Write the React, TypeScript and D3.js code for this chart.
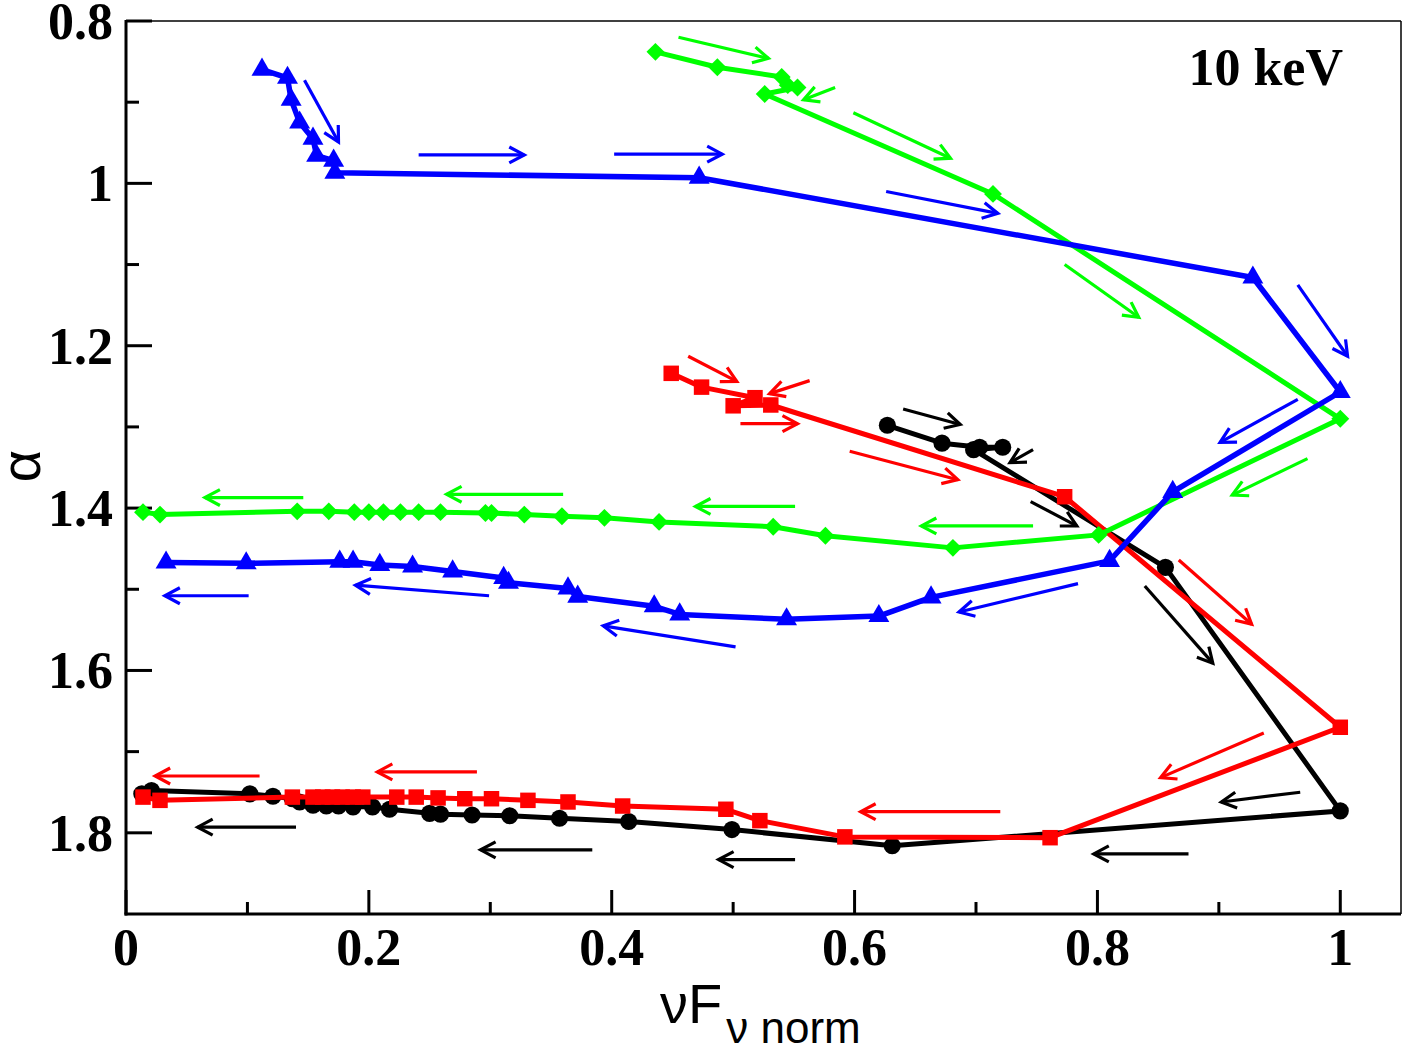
import React from "react";
import * as d3 from "d3";

// Spectral index alpha vs normalised nuF_nu at 10 keV, four loops.
const blackLoop: [number, number][] = [
  [0.627, 1.298], [0.672, 1.32], [0.703, 1.325], [0.722, 1.325], [0.698, 1.328],
  [0.856, 1.473], [1.0, 1.773], [0.631, 1.816], [0.499, 1.796], [0.414, 1.786],
  [0.357, 1.782], [0.316, 1.779], [0.285, 1.778], [0.259, 1.777], [0.25, 1.776],
  [0.217, 1.771], [0.203, 1.768], [0.187, 1.768], [0.175, 1.767], [0.165, 1.767],
  [0.154, 1.766], [0.143, 1.762], [0.137, 1.758], [0.121, 1.755], [0.102, 1.752],
  [0.021, 1.748], [0.013, 1.752],
];

const redLoop: [number, number][] = [
  [0.449, 1.234], [0.474, 1.251], [0.518, 1.264], [0.5, 1.274], [0.531, 1.273],
  [0.773, 1.386], [1.0, 1.67], [0.761, 1.806], [0.592, 1.805], [0.522, 1.785],
  [0.494, 1.771], [0.409, 1.767], [0.364, 1.762], [0.331, 1.76], [0.301, 1.758],
  [0.279, 1.758], [0.257, 1.757], [0.239, 1.756], [0.223, 1.756], [0.195, 1.756],
  [0.187, 1.756], [0.178, 1.756], [0.17, 1.756], [0.162, 1.756], [0.154, 1.756],
  [0.137, 1.756], [0.028, 1.76], [0.014, 1.756],
];

const greenLoop: [number, number][] = [
  [0.436, 0.838], [0.487, 0.857], [0.54, 0.869], [0.545, 0.879], [0.553, 0.882],
  [0.526, 0.89], [0.714, 1.013], [1.0, 1.29], [0.801, 1.433], [0.681, 1.449],
  [0.576, 1.434], [0.533, 1.423], [0.439, 1.417], [0.394, 1.412], [0.359, 1.41],
  [0.328, 1.408], [0.301, 1.406], [0.296, 1.406], [0.259, 1.405], [0.241, 1.405],
  [0.226, 1.405], [0.212, 1.405], [0.2, 1.405], [0.188, 1.405], [0.167, 1.404],
  [0.141, 1.404], [0.028, 1.408], [0.014, 1.405],
];

const blueLoop: [number, number][] = [
  [0.112, 0.86], [0.133, 0.87], [0.136, 0.897], [0.143, 0.925], [0.154, 0.945],
  [0.157, 0.966], [0.171, 0.972], [0.172, 0.987], [0.472, 0.993], [0.928, 1.116],
  [1.0, 1.257], [0.862, 1.38], [0.81, 1.465], [0.663, 1.51], [0.62, 1.533],
  [0.544, 1.537], [0.456, 1.531], [0.435, 1.521], [0.372, 1.509], [0.364, 1.499],
  [0.315, 1.492], [0.311, 1.486], [0.269, 1.478], [0.236, 1.472], [0.209, 1.47],
  [0.187, 1.466], [0.176, 1.466], [0.099, 1.468], [0.033, 1.467],
];

// Direction arrows: [x1, y1, x2, y2] in data units
const blackArrows: number[][] = [
  [0.64, 1.278, 0.687, 1.297], [0.747, 1.328, 0.728, 1.344], [0.745, 1.392, 0.783, 1.422],
  [0.839, 1.496, 0.895, 1.591], [0.967, 1.75, 0.902, 1.762], [0.875, 1.826, 0.797, 1.826],
  [0.551, 1.833, 0.488, 1.833], [0.384, 1.821, 0.292, 1.821], [0.14, 1.793, 0.059, 1.793],
];
const redArrows: number[][] = [
  [0.463, 1.213, 0.503, 1.244], [0.563, 1.243, 0.53, 1.259], [0.506, 1.296, 0.553, 1.296],
  [0.596, 1.33, 0.685, 1.365], [0.867, 1.464, 0.927, 1.543], [0.937, 1.677, 0.852, 1.732],
  [0.72, 1.774, 0.605, 1.774], [0.289, 1.725, 0.207, 1.725], [0.11, 1.73, 0.024, 1.73],
];
const greenArrows: number[][] = [
  [0.455, 0.82, 0.529, 0.846], [0.584, 0.882, 0.558, 0.897], [0.599, 0.913, 0.679, 0.969],
  [0.773, 1.1, 0.834, 1.165], [0.973, 1.339, 0.911, 1.384], [0.747, 1.422, 0.655, 1.422],
  [0.551, 1.398, 0.469, 1.398], [0.36, 1.383, 0.264, 1.383], [0.146, 1.387, 0.065, 1.387],
];
const blueArrows: number[][] = [
  [0.147, 0.873, 0.175, 0.949], [0.241, 0.965, 0.328, 0.965], [0.402, 0.964, 0.491, 0.964],
  [0.626, 1.01, 0.718, 1.037], [0.965, 1.125, 1.006, 1.213], [0.965, 1.266, 0.901, 1.319],
  [0.784, 1.493, 0.686, 1.528], [0.502, 1.571, 0.393, 1.545], [0.299, 1.508, 0.189, 1.495],
  [0.101, 1.508, 0.032, 1.508],
];

const xMajorTicks = [0, 0.2, 0.4, 0.6, 0.8, 1];
const xMinorTicks = [0.1, 0.3, 0.5, 0.7, 0.9];
const yMajorTicks = [0.8, 1.0, 1.2, 1.4, 1.6, 1.8];
const yMinorTicks = [0.9, 1.1, 1.3, 1.5, 1.7];

const W = 1407;
const H = 1053;
const M = { left: 126, right: 1401, top: 21, bottom: 914 };

const x = d3.scaleLinear().domain([0, 1.05]).range([M.left, M.right]);
const y = d3.scaleLinear().domain([0.8, 1.9]).range([M.top, M.bottom]);

const line = d3
  .line<[number, number]>()
  .x((d) => x(d[0]))
  .y((d) => y(d[1]));

const fmt = (v: number) => (v === 0 || v === 1 ? String(v) : d3.format(".1f")(v));
const fmtY = (v: number) => (Math.abs(v - 1) < 1e-9 ? "1" : d3.format(".1f")(v));

type Series = {
  data: [number, number][];
  arrows: number[][];
  color: string;
  symbol: d3.SymbolType;
  size: number;
  width: number;
  rotate?: number;
};

const series: Series[] = [
  { data: blackLoop, arrows: blackArrows, color: "#000000", symbol: d3.symbolCircle, size: 230, width: 5 },
  { data: redLoop, arrows: redArrows, color: "#ff0000", symbol: d3.symbolSquare, size: 240, width: 5 },
  { data: greenLoop, arrows: greenArrows, color: "#00ff00", symbol: d3.symbolSquare, size: 160, width: 5, rotate: 45 },
  { data: blueLoop, arrows: blueArrows, color: "#0000ff", symbol: d3.symbolTriangle, size: 190, width: 5.5 },
];

function Arrow({ a, color }: { a: number[]; color: string }) {
  const x1 = x(a[0]);
  const y1 = y(a[1]);
  const x2 = x(a[2]);
  const y2 = y(a[3]);
  const ang = Math.atan2(y2 - y1, x2 - x1);
  const L = 17;
  const spread = (28 * Math.PI) / 180;
  const hx1 = x2 - L * Math.cos(ang - spread);
  const hy1 = y2 - L * Math.sin(ang - spread);
  const hx2 = x2 - L * Math.cos(ang + spread);
  const hy2 = y2 - L * Math.sin(ang + spread);
  return (
    <g stroke={color} strokeWidth={3.2} fill="none" strokeLinecap="butt">
      <line x1={x1} y1={y1} x2={x2} y2={y2} />
      <polyline points={`${hx1},${hy1} ${x2},${y2} ${hx2},${hy2}`} />
    </g>
  );
}

export default function App() {
  const serif = "'Liberation Serif', 'Times New Roman', serif";
  const sans = "'Liberation Sans', Arial, sans-serif";
  return (
    <svg
      width={W}
      height={H}
      viewBox={`0 0 ${W} ${H}`}
      style={{ position: "absolute", left: 0, top: 0, background: "#fff" }}
    >
      <rect x={0} y={0} width={W} height={H} fill="#fff" />

      {/* frame */}
      <line x1={M.left} y1={M.top} x2={M.right} y2={M.top} stroke="#000" strokeWidth={1.5} />
      <line x1={M.right} y1={M.top} x2={M.right} y2={M.bottom} stroke="#000" strokeWidth={1.5} />
      <line x1={M.left} y1={M.top - 1} x2={M.left} y2={M.bottom + 1.5} stroke="#000" strokeWidth={3} />
      <line x1={M.left - 1.5} y1={M.bottom} x2={M.right} y2={M.bottom} stroke="#000" strokeWidth={3} />

      {/* x ticks */}
      {xMajorTicks.map((t) => (
        <line key={`xM${t}`} x1={x(t)} x2={x(t)} y1={M.bottom} y2={M.bottom - 24} stroke="#000" strokeWidth={3} />
      ))}
      {xMinorTicks.map((t) => (
        <line key={`xm${t}`} x1={x(t)} x2={x(t)} y1={M.bottom} y2={M.bottom - 12} stroke="#000" strokeWidth={3} />
      ))}
      {xMajorTicks.map((t) => (
        <text
          key={`xl${t}`}
          x={x(t)}
          y={965}
          textAnchor="middle"
          fontFamily={serif}
          fontWeight="bold"
          fontSize={52}
        >
          {fmt(t)}
        </text>
      ))}

      {/* y ticks */}
      {yMajorTicks.map((t) => (
        <line key={`yM${t}`} x1={M.left} x2={M.left + 26} y1={y(t)} y2={y(t)} stroke="#000" strokeWidth={3} />
      ))}
      {yMinorTicks.map((t) => (
        <line key={`ym${t}`} x1={M.left} x2={M.left + 13} y1={y(t)} y2={y(t)} stroke="#000" strokeWidth={3} />
      ))}
      {yMajorTicks.map((t) => (
        <text
          key={`yl${t}`}
          x={113}
          y={y(t) + 18}
          textAnchor="end"
          fontFamily={serif}
          fontWeight="bold"
          fontSize={52}
        >
          {fmtY(t)}
        </text>
      ))}

      {/* axis titles */}
      <text
        transform="translate(40,466) rotate(-90)"
        textAnchor="middle"
        fontFamily={sans}
        fontSize={56}
      >
        α
      </text>
      <text x={660} y={1023} fontFamily={sans} fontSize={56}>
        νF
        <tspan dy={20} dx={4} fontSize={44}>
          ν norm
        </tspan>
      </text>

      <text x={1343} y={85} textAnchor="end" fontFamily={serif} fontWeight="bold" fontSize={52}>
        10 keV
      </text>

      {/* loops */}
      {series.map((s, i) => (
        <g key={`s${i}`}>
          <path d={line(s.data) || ""} fill="none" stroke={s.color} strokeWidth={s.width} strokeLinejoin="round" />
          {s.data.map((d, j) => (
            <path
              key={j}
              d={d3.symbol().type(s.symbol).size(s.size)() || ""}
              transform={`translate(${x(d[0])},${y(d[1])})${s.rotate ? ` rotate(${s.rotate})` : ""}`}
              fill={s.color}
            />
          ))}
          {s.arrows.map((a, j) => (
            <Arrow key={`a${j}`} a={a} color={s.color} />
          ))}
        </g>
      ))}
    </svg>
  );
}
